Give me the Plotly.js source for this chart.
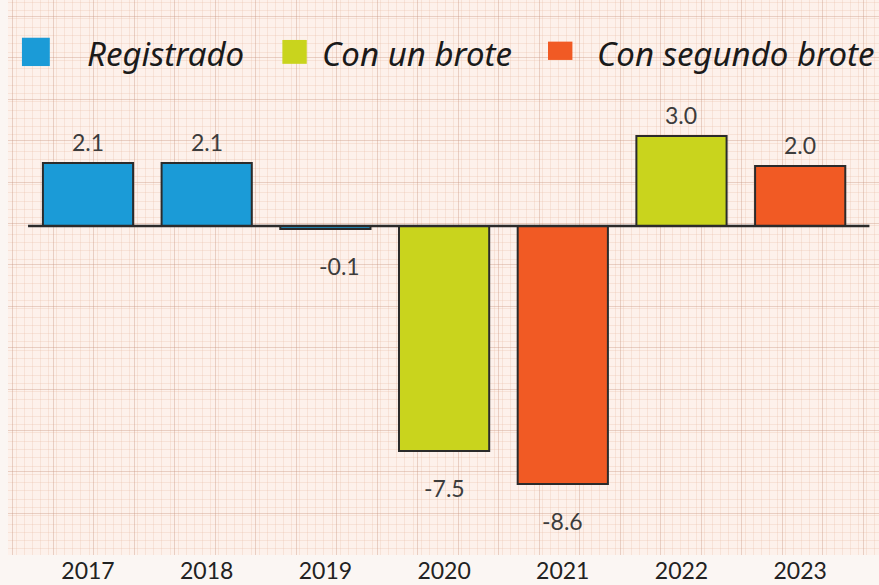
<!DOCTYPE html>
<html>
<head>
<meta charset="utf-8">
<script src="https://cdn.plot.ly/plotly-3.0.1.min.js"></script>
<style>
html,body{margin:0;padding:0;background:#fbf6f3;}
#chart{width:879px;height:585px;}
</style>
</head>
<body>
<div id="chart"></div>
<script>
// ---- data ----
var years = ['2017', '2018', '2019', '2020', '2021', '2022', '2023'];
var seriesNames = ['Registrado', 'Con un brote', 'Con segundo brote'];
var registrado = [2.1, 2.1, -0.1, null, null, null, null];
var conUnBrote = [null, null, null, -7.5, null, 3.0, null];
var conSegundoBrote = [null, null, null, null, -8.6, null, 2.0];

// ---- styles ----
var colors = ['#1b9bd7', '#c9d41d', '#f15a24'];
var seriesData = [registrado, conUnBrote, conSegundoBrote];
var outline = '#2b2b2b';

var traces = [];
// invisible helper trace that carries the vertical graph-paper grid axis
traces.push({type: 'scatter', x: [null], y: [null], xaxis: 'x2', yaxis: 'y',
  showlegend: false, hoverinfo: 'skip', mode: 'markers'});

seriesData.forEach(function (vals, i) {
  traces.push({
    type: 'bar',
    name: seriesNames[i],
    x: years,
    y: vals,
    width: 0.76,
    marker: {color: colors[i], line: {color: outline, width: 2}},
    showlegend: false,
    hoverinfo: 'x+y'
  });
});

var annotations = [];
seriesData.forEach(function (vals, i) {
  vals.forEach(function (v, j) {
    if (v === null || v === undefined) return;
    annotations.push({
      x: j, y: v, xref: 'x', yref: 'y',
      text: v.toFixed(1), showarrow: false,
      xanchor: 'center', yanchor: 'middle',
      yshift: v >= 0 ? 21 : -37,
      xshift: (v > -1 && v < 0) ? 14 : 0,
      font: {family: 'Lato, sans-serif', size: 23, color: '#3c3c3c'}
    });
  });
});

// manual legend (large squares + handwritten-like labels)
var legendSq = [[0.016, 0.048, 0.881, 0.932], [0.315, 0.343, 0.885, 0.928], [0.620, 0.648, 0.892, 0.925]];
var legendTx = [0.088, 0.358, 0.674];
var shapes = [];
seriesNames.forEach(function (n, i) {
  var s = legendSq[i];
  shapes.push({type: 'rect', xref: 'paper', yref: 'paper',
    x0: s[0], x1: s[1], y0: s[2], y1: s[3],
    fillcolor: colors[i], line: {width: 0}, layer: 'above'});
  annotations.push({xref: 'paper', yref: 'paper', x: legendTx[i], y: 0.904,
    xanchor: 'left', yanchor: 'middle', text: n, showarrow: false,
    font: {family: '"Noto Sans", sans-serif', style: 'italic', size: 33, color: '#1a1a1a'}});
});

// baseline
shapes.push({type: 'line', xref: 'paper', yref: 'y', x0: 0.023, x1: 0.989, y0: 0, y1: 0,
  line: {color: '#2b2b2b', width: 2.5}, layer: 'above'});

var majorGrid = 'rgba(200,150,130,0.38)';
var minorGrid = 'rgba(232,185,165,0.28)';

var layout = {
  width: 879, height: 585,
  margin: {l: 8, r: 0, t: 0, b: 30},
  paper_bgcolor: '#fbf6f3',
  plot_bgcolor: '#fdf1eb',
  barmode: 'overlay',
  showlegend: false,
  xaxis: {
    type: 'category', categoryorder: 'array', categoryarray: years,
    range: [-0.674, 6.664], showgrid: false, zeroline: false, showline: false,
    ticks: '', tickfont: {family: 'Lato, sans-serif', size: 23, color: '#222'},
    fixedrange: true
  },
  xaxis2: {
    overlaying: 'x', type: 'linear', range: [0, 871], showticklabels: false,
    tick0: 45, dtick: 40.5, showgrid: true, gridcolor: majorGrid, gridwidth: 1,
    minor: {dtick: 8.1, showgrid: true, gridcolor: minorGrid, gridwidth: 1},
    zeroline: false, ticks: '', showline: false
  },
  yaxis: {
    range: [-10.967, 7.533], showticklabels: false, ticks: '',
    tick0: -1.3, dtick: 1.38, showgrid: true, gridcolor: majorGrid, gridwidth: 1,
    minor: {dtick: 0.276, showgrid: true, gridcolor: minorGrid, gridwidth: 1},
    zeroline: false, showline: false, fixedrange: true
  },
  annotations: annotations,
  shapes: shapes
};

Plotly.newPlot('chart', traces, layout, {displayModeBar: false, staticPlot: true});
</script>
</body>
</html>
